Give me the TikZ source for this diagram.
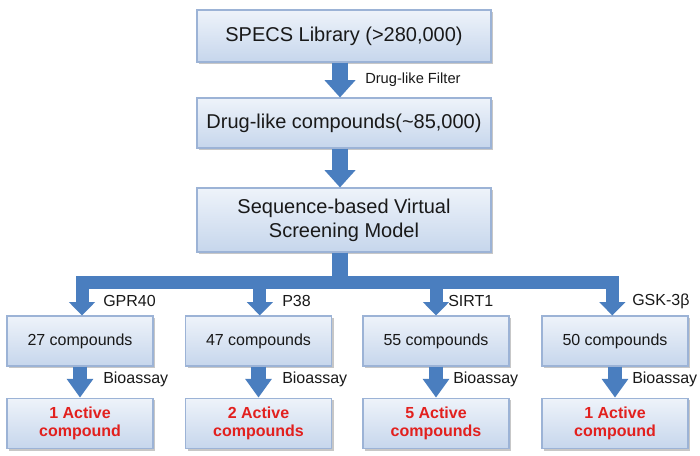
\documentclass[tikz,border=0pt]{standalone}
\usepackage{fontspec}
\setmainfont{Liberation Sans}
\usetikzlibrary{arrows.meta,shadows}
\definecolor{arrowblue}{HTML}{4A7EBF}
\definecolor{boxtop}{HTML}{EEF3FA}
\definecolor{boxbot}{HTML}{C6D6EC}
\definecolor{boxline}{HTML}{9CB3D6}
\definecolor{actred}{HTML}{E2201E}
\tikzset{
  box/.style={draw=boxline, line width=0.8pt, top color=boxtop, bottom color=boxbot,
    inner sep=0pt, align=center, text=black!90,
    drop shadow={shadow xshift=1.5pt, shadow yshift=-1.5pt, fill=black, opacity=0.22}},
  mainbox/.style={box, minimum width=220.5pt, font=\fontsize{15pt}{18pt}\selectfont},
  smallbox/.style={box, minimum width=109.5pt, minimum height=37.5pt, font=\fontsize{12pt}{14pt}\selectfont},
  activebox/.style={box, minimum width=109.5pt, minimum height=38pt, text=actred,
    font=\fontsize{12pt}{14pt}\selectfont\bfseries},
  bigarrow/.style={draw=arrowblue, line width=12pt,
    -{Triangle[width=22.5pt,length=13pt]}, arrowblue},
  stem/.style={draw=arrowblue, line width=12pt},
  branch/.style={draw=arrowblue, line width=9.75pt, line join=miter,
    -{Triangle[width=19pt,length=10pt]}, arrowblue},
  assay/.style={draw=arrowblue, line width=11pt,
    -{Triangle[width=19pt,length=14pt]}, arrowblue},
  lbl/.style={anchor=west, inner sep=0pt, font=\fontsize{12pt}{14pt}\selectfont, text=black!90},
  smalllbl/.style={anchor=west, inner sep=0pt, font=\fontsize{11pt}{13pt}\selectfont, text=black!90}
}
\begin{document}
\begin{tikzpicture}[x=0.75pt,y=-0.75pt]
\useasboundingbox (0,0) rectangle (700,456);
\fill[white] (0,0) rectangle (700,456);

\node[mainbox, minimum height=39pt] (lib) at (344,36) {SPECS Library (>280,000)};
\node[mainbox, minimum height=37.5pt] (drug) at (344,123) {Drug-like compounds(\textasciitilde 85,000)};
\node[mainbox, minimum height=48pt] (model) at (344,220) {Sequence-based Virtual\\Screening Model};

\node[smallbox] (c1) at (80,341) {27 compounds};
\node[smallbox] (c2) at (258.5,341) {47 compounds};
\node[smallbox] (c3) at (436,341) {55 compounds};
\node[smallbox] (c4) at (615,341) {50 compounds};

\node[activebox] (a1) at (80,423.5) {1 Active\\compound};
\node[activebox] (a2) at (258.5,423.5) {2 Active\\compounds};
\node[activebox] (a3) at (436,423.5) {5 Active\\compounds};
\node[activebox] (a4) at (615,423.5) {1 Active\\compound};

\draw[bigarrow] ([xshift=-3pt]lib.south) -- ([xshift=-3pt]drug.north);
\draw[bigarrow] ([xshift=-3pt]drug.south) -- ([xshift=-3pt]model.north);

\coordinate (hub) at (340,282.5);
\draw[stem] ([xshift=-3pt]model.south) -- ([yshift=-4pt]hub);
\draw[branch] (hub) -| ([xshift=1.5pt]c1.north);
\draw[branch] (hub) -| ([xshift=1pt]c2.north);
\draw[branch] (hub) -| (c3.north);
\draw[branch] (hub) -| ([xshift=-2pt]c4.north);

\foreach \n in {1,2,3,4}{
  \draw[assay] (c\n.south) -- (a\n.north);
}

\node[smalllbl] (flt) at (365,80) {Drug-like Filter};
\node[lbl] (g1) at (103,301) {GPR40};
\node[lbl] (g2) at (282,301) {P38};
\node[lbl] (g3) at (448,301) {SIRT1};
\node[lbl] (g4) at (632,301) {GSK-3β};
\node[lbl] (b1) at (103,379) {Bioassay};
\node[lbl] (b2) at (282,379) {Bioassay};
\node[lbl] (b3) at (453,379) {Bioassay};
\node[lbl] (b4) at (632,379) {Bioassay};
\end{tikzpicture}
\end{document}
